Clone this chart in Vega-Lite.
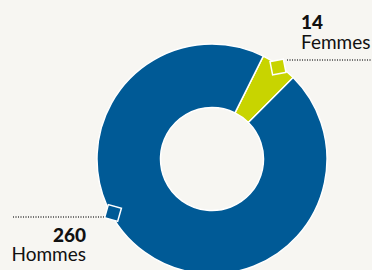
{
  "$schema": "https://vega.github.io/schema/vega-lite/v6.json",
  "width": 372,
  "height": 270,
  "autosize": "none",
  "padding": 0,
  "background": "#F7F6F2",
  "config": {"view": {"stroke": null}, "text": {"font": "Lato"}},
  "data": {"values": [
    {"sexe": "Femmes", "n": 14},
    {"sexe": "Hommes", "n": 260}
  ]},
  "layer": [
    {
      "mark": {"type": "arc", "outerRadius": 115, "innerRadius": 51.5, "stroke": "#ffffff", "strokeWidth": 1.5},
      "encoding": {
        "theta": {"field": "n", "type": "quantitative", "stack": true, "scale": {"range": [0.4625, 6.7457]}},
        "color": {"field": "sexe", "type": "nominal", "legend": null, "scale": {"domain": ["Femmes", "Hommes"], "range": ["#C8D400", "#005A96"]}},
        "x": {"datum": 0, "type": "quantitative", "axis": null, "scale": {"domain": [-212, 160], "nice": false, "zero": false}},
        "y": {"datum": 0, "type": "quantitative", "axis": null, "scale": {"domain": [-111, 159], "nice": false, "zero": false}}
      }
    },
    {
      "mark": {"type": "rule", "stroke": "#444444", "strokeWidth": 1, "strokeDash": [1, 1.5]},
      "encoding": {
        "x": {"datum": 75, "type": "quantitative"},
        "x2": {"datum": 160},
        "y": {"datum": 99, "type": "quantitative"}
      }
    },
    {
      "mark": {"type": "rule", "stroke": "#444444", "strokeWidth": 1, "strokeDash": [1, 1.5]},
      "encoding": {
        "x": {"datum": -199, "type": "quantitative"},
        "x2": {"datum": -107},
        "y": {"datum": -58, "type": "quantitative"}
      }
    },
    {
      "transform": [{"filter": "datum.sexe === 'Femmes'"}],
      "mark": {"type": "point", "shape": "square", "size": 185, "filled": true, "opacity": 1, "stroke": "#ffffff", "strokeWidth": 1.5, "angle": -11},
      "encoding": {
        "x": {"datum": 66, "type": "quantitative"},
        "y": {"datum": 92, "type": "quantitative"},
        "color": {"field": "sexe", "type": "nominal"}
      }
    },
    {
      "transform": [{"filter": "datum.sexe === 'Hommes'"}],
      "mark": {"type": "point", "shape": "square", "size": 185, "filled": true, "opacity": 1, "stroke": "#ffffff", "strokeWidth": 1.5, "angle": 16},
      "encoding": {
        "x": {"datum": -99, "type": "quantitative"},
        "y": {"datum": -54, "type": "quantitative"},
        "color": {"field": "sexe", "type": "nominal"}
      }
    },
    {
      "transform": [{"filter": "datum.sexe === 'Femmes'"}],
      "mark": {"type": "text", "align": "left", "baseline": "alphabetic", "fontSize": 19, "fontWeight": 900, "color": "#111111"},
      "encoding": {
        "x": {"datum": 89, "type": "quantitative"},
        "y": {"datum": 130, "type": "quantitative"},
        "text": {"field": "n", "type": "quantitative"}
      }
    },
    {
      "transform": [{"filter": "datum.sexe === 'Femmes'"}],
      "mark": {"type": "text", "align": "left", "baseline": "alphabetic", "fontSize": 19, "color": "#111111"},
      "encoding": {
        "x": {"datum": 89, "type": "quantitative"},
        "y": {"datum": 110, "type": "quantitative"},
        "text": {"field": "sexe", "type": "nominal"}
      }
    },
    {
      "transform": [{"filter": "datum.sexe === 'Hommes'"}],
      "mark": {"type": "text", "align": "right", "baseline": "alphabetic", "fontSize": 19, "fontWeight": 900, "color": "#111111"},
      "encoding": {
        "x": {"datum": -126, "type": "quantitative"},
        "y": {"datum": -82.5, "type": "quantitative"},
        "text": {"field": "n", "type": "quantitative"}
      }
    },
    {
      "transform": [{"filter": "datum.sexe === 'Hommes'"}],
      "mark": {"type": "text", "align": "right", "baseline": "alphabetic", "fontSize": 19, "color": "#111111"},
      "encoding": {
        "x": {"datum": -126, "type": "quantitative"},
        "y": {"datum": -102, "type": "quantitative"},
        "text": {"field": "sexe", "type": "nominal"}
      }
    }
  ]
}
